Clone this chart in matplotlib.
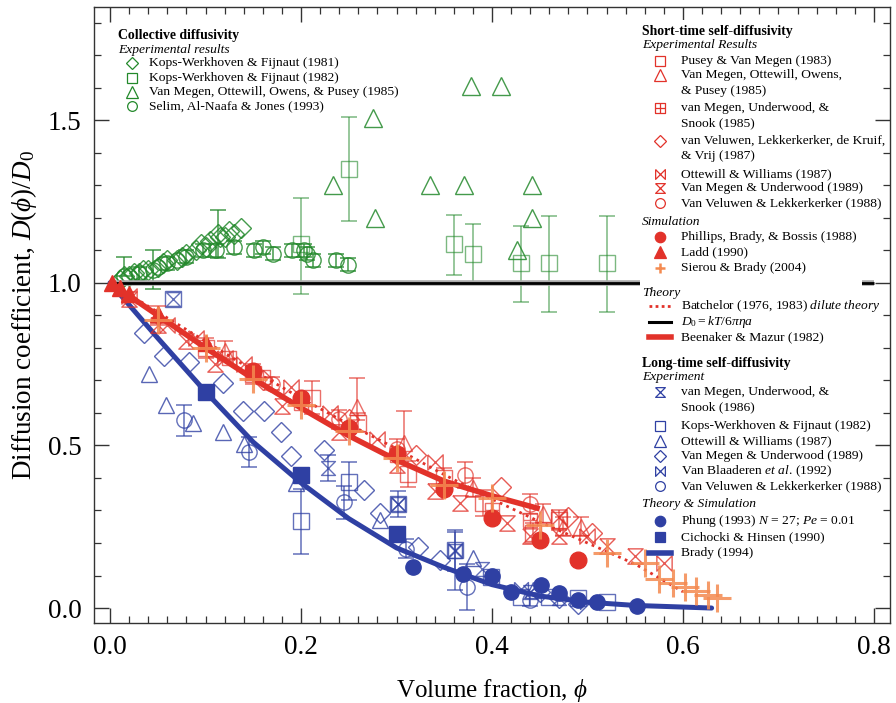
import numpy as np
import matplotlib
matplotlib.use('Agg')
import matplotlib.pyplot as plt
from matplotlib.path import Path
from matplotlib.lines import Line2D
import matplotlib.patches as mpatches
from matplotlib.ticker import MultipleLocator, FormatStrFormatter

plt.rcParams['font.family'] = ['Liberation Serif', 'DejaVu Serif']
plt.rcParams['mathtext.fontset'] = 'custom'
plt.rcParams['mathtext.rm'] = 'Liberation Serif'
plt.rcParams['mathtext.it'] = 'Liberation Serif:italic'
plt.rcParams['mathtext.bf'] = 'Liberation Serif:bold'

# ---------------- data ----------------
# Collective diffusivity (green)
kf81_phi = [0.01, 0.015, 0.02, 0.025, 0.03, 0.035, 0.04, 0.05, 0.055, 0.06, 0.07, 0.075,
            0.08, 0.09, 0.095, 0.10, 0.105, 0.113, 0.115, 0.12, 0.125, 0.13, 0.137]
kf81_D = [1.01, 1.02, 1.02, 1.03, 1.03, 1.04, 1.04, 1.05, 1.06, 1.07, 1.07, 1.08,
          1.09, 1.10, 1.12, 1.11, 1.13, 1.15, 1.14, 1.14, 1.16, 1.15, 1.17]
kf81_lo = [0, 0, 0, 0, 0, 0, 0, 0, 0, 0, 0, 0, 0, 0, 0, 0, 0, 0.075, 0, 0, 0, 0, 0]
kf81_hi = [0, 0, 0, 0, 0, 0, 0, 0, 0, 0, 0, 0, 0, 0, 0, 0, 0, 0.075, 0, 0, 0, 0, 0]

kf82g_phi = [0.20, 0.25, 0.36, 0.38, 0.43, 0.46, 0.52]
kf82g_D = [1.12, 1.35, 1.12, 1.09, 1.06, 1.06, 1.06]
kf82g_lo = [0.155, 0.16, 0.095, 0.09, 0.12, 0.15, 0.15]
kf82g_hi = [0.14, 0.16, 0.09, 0.09, 0.115, 0.145, 0.145]

vm85g_phi = [0.233, 0.275, 0.277, 0.335, 0.371, 0.378, 0.409, 0.426, 0.442, 0.442]
vm85g_D = [1.30, 1.506, 1.20, 1.30, 1.30, 1.604, 1.604, 1.10, 1.30, 1.20]

selim_phi = [0.015, 0.02, 0.03, 0.045, 0.05, 0.06, 0.07, 0.08, 0.097, 0.111, 0.13, 0.151,
             0.16, 0.171, 0.191, 0.203, 0.206, 0.213, 0.237, 0.249]
selim_D = [1.02, 1.02, 1.03, 1.04, 1.05, 1.06, 1.07, 1.08, 1.10, 1.10, 1.11, 1.10,
           1.11, 1.09, 1.10, 1.10, 1.09, 1.07, 1.07, 1.055]
selim_lo = [0.0, 0, 0.02, 0.06, 0, 0.02, 0, 0.02, 0.02, 0.02, 0.02, 0.02,
            0.02, 0.02, 0.02, 0.02, 0.02, 0.02, 0.02, 0.02]
selim_hi = [0.06, 0, 0.02, 0.06, 0, 0.02, 0, 0.02, 0.02, 0.02, 0.02, 0.02,
            0.02, 0.02, 0.02, 0.02, 0.02, 0.02, 0.02, 0.02]

# Reference line D0
d0_phi = [0.0, 0.8]
d0_D = [1.0, 1.0]

# Short-time self-diffusivity (red)
bm_phi = [0.0, 0.05, 0.10, 0.15, 0.20, 0.25, 0.30, 0.35, 0.40, 0.45]
bm_D = [1.0, 0.90, 0.80, 0.705, 0.615, 0.53, 0.455, 0.39, 0.345, 0.305]

bat_phi = [0.0, 0.05, 0.10, 0.15, 0.20, 0.25, 0.30, 0.35, 0.40, 0.45, 0.50, 0.55, 0.60]
bat_D = [1.0, 0.91, 0.82, 0.73, 0.645, 0.565, 0.49, 0.41, 0.335, 0.265, 0.20, 0.135, 0.05]

pvm83_phi = [0.10, 0.15, 0.212, 0.26, 0.312, 0.35, 0.391, 0.443, 0.47]
pvm83_D = [0.80, 0.72, 0.647, 0.57, 0.413, 0.40, 0.322, 0.23, 0.27]
pvm83_err = [0.03, 0.03, 0.05, 0.03, 0.04, 0.03, 0.04, 0.03, 0.03]

vm85r_phi = [0.05, 0.12, 0.259, 0.308, 0.38, 0.453, 0.474, 0.493]
vm85r_D = [0.90, 0.79, 0.617, 0.506, 0.37, 0.29, 0.25, 0.25]
vm85r_lo = [0.03, 0.03, 0.04, 0.045, 0.03, 0.03, 0.03, 0.03]
vm85r_hi = [0.03, 0.03, 0.09, 0.10, 0.03, 0.03, 0.03, 0.03]

vmus85_phi = [0.125, 0.16, 0.20, 0.30, 0.40, 0.44]
vmus85_D = [0.77, 0.71, 0.63, 0.47, 0.30, 0.27]

vvlkv87_phi = [0.16, 0.25, 0.32, 0.409, 0.48, 0.505]
vvlkv87_D = [0.70, 0.58, 0.47, 0.372, 0.28, 0.23]

ow87r_phi = [0.02, 0.06, 0.09, 0.12, 0.14, 0.19, 0.23, 0.28, 0.34, 0.47, 0.50, 0.58]
ow87r_D = [0.96, 0.87, 0.83, 0.77, 0.75, 0.68, 0.60, 0.52, 0.45, 0.28, 0.22, 0.14]

vmu89r_phi = [0.02, 0.05, 0.08, 0.11, 0.18, 0.24, 0.30, 0.34, 0.367, 0.416, 0.44, 0.47, 0.52, 0.55]
vmu89r_D = [0.95, 0.87, 0.82, 0.75, 0.62, 0.54, 0.44, 0.36, 0.322, 0.26, 0.22, 0.22, 0.19, 0.16]

vvl88r_phi = [0.17, 0.24, 0.30, 0.372, 0.44]
vvl88r_D = [0.69, 0.58, 0.49, 0.408, 0.32]
vvl88r_err = [0.02, 0.03, 0.03, 0.04, 0.03]

pbb88_phi = [0.15, 0.20, 0.25, 0.30, 0.35, 0.40, 0.45, 0.49]
pbb88_D = [0.73, 0.645, 0.555, 0.475, 0.365, 0.276, 0.209, 0.147]

ladd90_phi = [0.002, 0.01, 0.02, 0.05, 0.10, 0.15]
ladd90_D = [1.0, 0.985, 0.965, 0.905, 0.815, 0.725]

sb04_phi = [0.05, 0.10, 0.15, 0.20, 0.25, 0.30, 0.35, 0.40, 0.45, 0.52, 0.56,
            0.575, 0.59, 0.602, 0.614, 0.626, 0.636]
sb04_D = [0.885, 0.80, 0.705, 0.625, 0.545, 0.46, 0.377, 0.337, 0.255, 0.17, 0.138,
          0.09, 0.078, 0.065, 0.052, 0.04, 0.03]

# Long-time self-diffusivity (blue)
brady_phi = [0.0, 0.05, 0.10, 0.15, 0.20, 0.25, 0.30, 0.35, 0.40, 0.45, 0.50, 0.55, 0.60, 0.63]
brady_D = [1.0, 0.83, 0.665, 0.51, 0.385, 0.275, 0.185, 0.125, 0.072, 0.037, 0.018, 0.008, 0.003, 0.0]

vmus86_phi = [0.066, 0.228, 0.302, 0.361, 0.39, 0.44, 0.47]
vmus86_D = [0.95, 0.43, 0.32, 0.175, 0.12, 0.05, 0.03]
vmus86_err = [0.0, 0.04, 0.04, 0.06, 0, 0, 0]

kf82b_phi = [0.066, 0.20, 0.25, 0.302, 0.361, 0.399, 0.43, 0.46, 0.49, 0.52]
kf82b_D = [0.95, 0.267, 0.387, 0.32, 0.178, 0.096, 0.034, 0.034, 0.03, 0.02]
kf82b_lo = [0, 0.10, 0.056, 0, 0.123, 0, 0, 0, 0, 0]
kf82b_hi = [0, 0.10, 0.061, 0, 0.061, 0, 0, 0, 0, 0]

ow87b_phi = [0.041, 0.059, 0.087, 0.118, 0.14, 0.195, 0.283, 0.38, 0.443]
ow87b_D = [0.72, 0.623, 0.57, 0.54, 0.505, 0.383, 0.27, 0.153, 0.055]

vmu89b_phi = [0.036, 0.056, 0.083, 0.118, 0.139, 0.161, 0.179, 0.189, 0.224, 0.266,
              0.283, 0.322, 0.346, 0.45, 0.47, 0.49]
vmu89b_D = [0.847, 0.776, 0.755, 0.693, 0.607, 0.607, 0.54, 0.469, 0.485, 0.362,
            0.291, 0.187, 0.147, 0.05, 0.03, 0.012]

vb92_phi = [0.302, 0.361, 0.43, 0.50]
vb92_D = [0.32, 0.178, 0.06, 0.02]

vvl88b_phi = [0.077, 0.145, 0.245, 0.31, 0.374, 0.44]
vvl88b_D = [0.577, 0.48, 0.325, 0.183, 0.065, 0.025]
vvl88b_err = [0.047, 0.045, 0.05, 0.03, 0.07, 0.02]

phung_phi = [0.317, 0.37, 0.40, 0.42, 0.451, 0.47, 0.49, 0.51, 0.552]
phung_D = [0.126, 0.104, 0.098, 0.05, 0.07, 0.046, 0.024, 0.019, 0.006]

ch90_phi = [0.10, 0.20, 0.30]
ch90_D = [0.663, 0.408, 0.227]

x_ticks = [0.0, 0.2, 0.4, 0.6, 0.8]
y_ticks = [0.0, 0.5, 1.0, 1.5]

# ---------------- style ----------------
GREEN = '#23892b'
RED = '#e2322a'
BLUE = '#2f40a3'
ORANGE = '#f48a50'

HOURGLASS = Path([(-1, 1), (1, 1), (-1, -1), (1, -1), (-1, 1)], [1, 2, 2, 2, 2])
BOWTIE = Path([(-1, 1), (-1, -1), (1, 1), (1, -1), (-1, 1)], [1, 2, 2, 2, 2])
SQPLUS = Path([(-1, -1), (1, -1), (1, 1), (-1, 1), (-1, -1), (0, -1), (0, 1), (-1, 0), (1, 0)],
              [1, 2, 2, 2, 2, 1, 2, 1, 2])

W, H = 896, 703
fig = plt.figure(figsize=(W / 100, H / 100), dpi=100)
L, R, T, B = 94, 890, 7, 623
ax = fig.add_axes([L / W, 1 - B / H, (R - L) / W, (B - T) / H])


def pts(x, y, color, marker, ms, lo=None, hi=None, filled=False, mew=1.0, alpha=0.85, z=3):
    x = np.asarray(x, float)
    y = np.asarray(y, float)
    if lo is not None:
        lo = np.asarray(lo, float)
        hi = np.asarray(hi, float)
        m = (lo > 0) | (hi > 0)
        ax.errorbar(x[m], y[m], yerr=[lo[m], hi[m]], fmt='none', ecolor=color,
                    elinewidth=1.1, capsize=5.5, capthick=1.1, alpha=alpha, zorder=z)
    ax.plot(x, y, ls='none', marker=marker, ms=ms, mfc=color if filled else 'none',
            mec=color, mew=mew, alpha=alpha, zorder=z)


# green
pts(kf81_phi, kf81_D, GREEN, 'D', 10, kf81_lo, kf81_hi)
pts(kf82g_phi, kf82g_D, GREEN, 's', 11, kf82g_lo, kf82g_hi, alpha=0.6)
pts(vm85g_phi, vm85g_D, GREEN, '^', 13)
pts(selim_phi, selim_D, GREEN, 'o', 11, selim_lo, selim_hi)

# reference line
ax.plot(d0_phi, d0_D, color='#aaaaaa', lw=4.0, zorder=3.5, solid_capstyle='butt')
ax.plot(d0_phi, d0_D, color='black', lw=2.0, zorder=3.6, solid_capstyle='butt')

# blue
pts(vmus86_phi, vmus86_D, BLUE, HOURGLASS, 10, vmus86_err, vmus86_err, alpha=0.75)
pts(kf82b_phi, kf82b_D, BLUE, 's', 11, kf82b_lo, kf82b_hi, alpha=0.75)
pts(ow87b_phi, ow87b_D, BLUE, '^', 12, alpha=0.8)
pts(vmu89b_phi, vmu89b_D, BLUE, 'D', 10, alpha=0.8)
pts(vb92_phi, vb92_D, BLUE, BOWTIE, 10, alpha=0.8)
pts(vvl88b_phi, vvl88b_D, BLUE, 'o', 11, vvl88b_err, vvl88b_err, alpha=0.75)
ax.plot(brady_phi, brady_D, color=BLUE, lw=3.6, zorder=4, solid_capstyle='round')
pts(phung_phi, phung_D, BLUE, 'o', 11, filled=True, alpha=1.0, z=4.2)
pts(ch90_phi, ch90_D, BLUE, 's', 11, filled=True, alpha=1.0, z=4.2)

# red
pts(pvm83_phi, pvm83_D, RED, 's', 11, pvm83_err, pvm83_err, alpha=0.7, z=5)
pts(vm85r_phi, vm85r_D, RED, '^', 12, vm85r_lo, vm85r_hi, alpha=0.7, z=5)
pts(vmus85_phi, vmus85_D, RED, SQPLUS, 10, alpha=0.7, z=5)
pts(vvlkv87_phi, vvlkv87_D, RED, 'D', 10, alpha=0.8, z=5)
pts(ow87r_phi, ow87r_D, RED, BOWTIE, 11, alpha=0.8, z=5)
pts(vmu89r_phi, vmu89r_D, RED, HOURGLASS, 11, alpha=0.8, z=5)
pts(vvl88r_phi, vvl88r_D, RED, 'o', 11, vvl88r_err, vvl88r_err, alpha=0.7, z=5)
ax.plot(bat_phi, bat_D, color=RED, lw=2.0, ls=(0, (1, 1.6)), zorder=5.5)
ax.plot(bm_phi, bm_D, color=RED, lw=4.0, zorder=5.6, solid_capstyle='butt')
pts(pbb88_phi, pbb88_D, RED, 'o', 12, filled=True, alpha=1.0, z=5.8)
pts(ladd90_phi, ladd90_D, RED, '^', 12, filled=True, alpha=1.0, z=5.8)
pts(sb04_phi, sb04_D, ORANGE, '+', 20, mew=2.2, alpha=0.85, z=6)

# ---------------- axes ----------------
ax.set_xlim(-0.0168, 0.8168)
ax.set_ylim(-0.046, 1.848)
ax.set_xticks(x_ticks)
ax.set_yticks(y_ticks)
ax.xaxis.set_minor_locator(MultipleLocator(0.02))
ax.yaxis.set_minor_locator(MultipleLocator(0.1))
ax.xaxis.set_major_formatter(FormatStrFormatter('%.1f'))
ax.yaxis.set_major_formatter(FormatStrFormatter('%.1f'))
ax.tick_params(which='both', direction='in', top=True, right=True, color='#333333')
ax.tick_params(which='major', length=11, width=1.0, labelsize=19.5, pad=9)
ax.tick_params(which='minor', length=5, width=0.9)
for s in ax.spines.values():
    s.set_color('#333333')
    s.set_linewidth(1.0)
ax.set_xlabel(r'Volume fraction, $\phi$', fontsize=18, labelpad=12)
ax.set_ylabel(r'Diffusion coefficient, $D(\phi)/D_0$', fontsize=19.5, labelpad=6)

# ---------------- legends ----------------
tf = fig.transFigure


def fx(px):
    return px / W


def fy(py):
    return 1 - py / H


FS = 9.7


def head(px, py, s, bold=False):
    fig.text(fx(px), fy(py), s, fontsize=FS + (0.2 if bold else 0.0),
             fontweight='bold' if bold else 'normal', style='normal' if bold else 'italic',
             va='center', ha='left', zorder=11)


def row(mx, tx, py, s, color, marker=None, ms=7, filled=False, mew=0.9, line=None):
    if marker is not None:
        fig.add_artist(Line2D([fx(mx)], [fy(py)], transform=tf, ls='none', marker=marker,
                              ms=ms, mfc=color if filled else 'none', mec=color, mew=mew,
                              zorder=11))
    if line is not None:
        lw, ls = line
        fig.add_artist(Line2D([fx(mx - 11), fx(mx + 11)], [fy(py), fy(py)], transform=tf,
                              color=color, lw=lw, ls=ls, zorder=11))
    fig.text(fx(tx), fy(py), s, fontsize=FS, va='center', ha='left', zorder=11)


# white box behind short-time legend
fig.add_artist(mpatches.Rectangle((fx(640), fy(345)), fx(862) - fx(640), fy(20) - fy(345),
                                  transform=tf, facecolor='white', edgecolor='none', zorder=10))

# collective
head(118, 36, 'Collective diffusivity', bold=True)
head(118, 50, 'Experimental results')
row(132, 149, 63, 'Kops-Werkhoven & Fijnaut (1981)', GREEN, 'D', 6.5)
row(132, 149, 78, 'Kops-Werkhoven & Fijnaut (1982)', GREEN, 's', 7)
row(132, 149, 92, 'Van Megen, Ottewill, Owens, & Pusey (1985)', GREEN, '^', 8)
row(132, 149, 106, 'Selim, Al-Naafa & Jones (1993)', GREEN, 'o', 7)

# short time
head(642, 32, 'Short-time self-diffusivity', bold=True)
head(642, 45, 'Experimental Results')
row(660, 681, 61, 'Pusey & Van Megen (1983)', RED, 's', 7)
row(660, 681, 75, 'Van Megen, Ottewill, Owens,', RED, '^', 8)
row(660, 681, 91, '& Pusey (1985)', RED)
row(660, 681, 108, 'van Megen, Underwood, &', RED, SQPLUS, 7)
row(660, 681, 123, 'Snook (1985)', RED)
row(660, 681, 141, 'van Veluwen, Lekkerkerker, de Kruif,', RED, 'D', 6.5)
row(660, 681, 156, '& Vrij (1987)', RED)
row(660, 681, 174, 'Ottewill & Williams (1987)', RED, BOWTIE, 7)
row(660, 681, 188, 'Van Megen & Underwood (1989)', RED, HOURGLASS, 7)
row(660, 681, 203, 'Van Veluwen & Lekkerkerker (1988)', RED, 'o', 7)
head(642, 222, 'Simulation')
row(660, 681, 237, 'Phillips, Brady, & Bossis (1988)', RED, 'o', 7.5, filled=True)
row(660, 681, 252, 'Ladd (1990)', RED, '^', 8, filled=True)
row(660, 681, 268, 'Sierou & Brady (2004)', ORANGE, '+', 7, mew=1.8)
head(642, 293, 'Theory')
row(660, 681, 306, r'Batchelor (1976, 1983) $\mathit{dilute\ theory}$', RED, line=(2.0, (0, (1, 1.2))))
row(660, 681, 322, r'$D_0 = kT/6\pi\eta a$', 'black', line=(2.2, '-'))
row(660, 681, 337, 'Beenaker & Mazur (1982)', RED, line=(4.0, '-'))

# long time
head(642, 363, 'Long-time self-diffusivity', bold=True)
head(642, 377, 'Experiment')
row(660, 681, 392, 'van Megen, Underwood, &', BLUE, HOURGLASS, 7)
row(660, 681, 407, 'Snook (1986)', BLUE)
row(660, 681, 426, 'Kops-Werkhoven & Fijnaut (1982)', BLUE, 's', 7)
row(660, 681, 441, 'Ottewill & Williams (1987)', BLUE, '^', 8)
row(660, 681, 456, 'Van Megen & Underwood (1989)', BLUE, 'D', 6.5)
row(660, 681, 471, r'Van Blaaderen $\mathit{et\ al}$. (1992)', BLUE, BOWTIE, 7)
row(660, 681, 486, 'Van Veluwen & Lekkerkerker (1988)', BLUE, 'o', 7)
head(642, 504, 'Theory & Simulation')
row(660, 681, 521, r'Phung (1993) $N$ = 27; $Pe$ = 0.01', BLUE, 'o', 7.5, filled=True)
row(660, 681, 537, 'Cichocki & Hinsen (1990)', BLUE, 's', 7, filled=True)
row(660, 681, 553, 'Brady (1994)', BLUE, line=(4.0, '-'))

fig.savefig('out.png', dpi=100)
